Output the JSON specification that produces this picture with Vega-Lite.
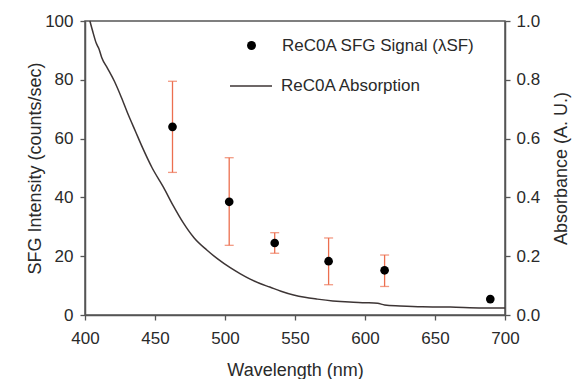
{
  "$schema": "https://vega.github.io/schema/vega-lite/v6.json",
  "width": 420,
  "height": 294,
  "autosize": {"type": "none"},
  "padding": {"left": 85, "top": 21, "right": 70, "bottom": 64},
  "background": "white",
  "config": {
    "font": "Liberation Sans",
    "view": {"stroke": "#555555", "strokeWidth": 1.5},
    "scale": {"continuousPadding": 0},
    "axis": {
      "grid": false,
      "labelFlush": false,
      "domainColor": "#555555",
      "domainWidth": 1.5,
      "tickColor": "#555555",
      "tickWidth": 1.3,
      "tickSize": 5,
      "labelFont": "Liberation Sans",
      "labelFontSize": 17,
      "labelColor": "#2a2a2a",
      "titleFont": "Liberation Sans",
      "titleFontSize": 18,
      "titleFontWeight": "normal",
      "titleColor": "#2a2a2a"
    },
    "legend": {
      "labelFont": "Liberation Sans",
      "labelFontSize": 17,
      "labelColor": "#2a2a2a",
      "labelLimit": 400,
      "padding": 0
    }
  },
  "datasets": {
    "sfg": [
      {"wl": 462.5, "sfg": 64.0, "lo": 48.5, "hi": 79.5},
      {"wl": 503.0, "sfg": 38.5, "lo": 23.7, "hi": 53.5},
      {"wl": 535.5, "sfg": 24.5, "lo": 21.0, "hi": 28.0},
      {"wl": 574.0, "sfg": 18.3, "lo": 10.3, "hi": 26.2},
      {"wl": 614.0, "sfg": 15.2, "lo": 9.7, "hi": 20.4},
      {"wl": 689.5, "sfg": 5.4, "lo": null, "hi": null}
    ],
    "abs": [
      {"wl": 403.5, "a": 1.0},
      {"wl": 405.5, "a": 0.965},
      {"wl": 408, "a": 0.925},
      {"wl": 410, "a": 0.905},
      {"wl": 412, "a": 0.875},
      {"wl": 416, "a": 0.84},
      {"wl": 421, "a": 0.795},
      {"wl": 426, "a": 0.74},
      {"wl": 431, "a": 0.68},
      {"wl": 436, "a": 0.625},
      {"wl": 441, "a": 0.57},
      {"wl": 448, "a": 0.5},
      {"wl": 456, "a": 0.435},
      {"wl": 463, "a": 0.372},
      {"wl": 470, "a": 0.315},
      {"wl": 478, "a": 0.262},
      {"wl": 487, "a": 0.221},
      {"wl": 495, "a": 0.19},
      {"wl": 504, "a": 0.16},
      {"wl": 511, "a": 0.14},
      {"wl": 518, "a": 0.122},
      {"wl": 525, "a": 0.107},
      {"wl": 532, "a": 0.095},
      {"wl": 540, "a": 0.081},
      {"wl": 549, "a": 0.068},
      {"wl": 557, "a": 0.06},
      {"wl": 566, "a": 0.054},
      {"wl": 577, "a": 0.048},
      {"wl": 589, "a": 0.044},
      {"wl": 600, "a": 0.042},
      {"wl": 609, "a": 0.04},
      {"wl": 614, "a": 0.034},
      {"wl": 625, "a": 0.031},
      {"wl": 641, "a": 0.028},
      {"wl": 661, "a": 0.027},
      {"wl": 684, "a": 0.024},
      {"wl": 700, "a": 0.024}
    ]
  },
  "encoding": {
    "x": {
      "field": "wl",
      "type": "quantitative",
      "scale": {"domain": [400, 700], "nice": false, "padding": 0},
      "axis": {"values": [400, 450, 500, 550, 600, 650, 700], "title": "Wavelength (nm)", "labelPadding": 10, "titlePadding": 15}
    }
  },
  "layer": [
    {
      "data": {"name": "sfg"},
      "layer": [
        {
          "mark": {"type": "rule", "color": "#ec6f4f", "strokeWidth": 1.3},
          "encoding": {
            "y": {
              "field": "lo",
              "type": "quantitative",
              "scale": {"domain": [0, 100], "nice": false, "padding": 0},
              "axis": {"values": [0, 20, 40, 60, 80, 100], "title": "SFG Intensity (counts/sec)", "labelPadding": 7, "titlePadding": 0}
            },
            "y2": {"field": "hi"}
          }
        },
        {
          "mark": {"type": "tick", "color": "#ec6f4f", "orient": "horizontal", "size": 9, "thickness": 1.3},
          "encoding": {"y": {"field": "lo", "type": "quantitative"}}
        },
        {
          "mark": {"type": "tick", "color": "#ec6f4f", "orient": "horizontal", "size": 9, "thickness": 1.3},
          "encoding": {"y": {"field": "hi", "type": "quantitative"}}
        },
        {
          "mark": {"type": "point", "filled": true, "color": "black", "size": 75, "opacity": 1},
          "encoding": {
            "y": {"field": "sfg", "type": "quantitative"},
            "shape": {
              "datum": "ReC0A SFG Signal (λSF)",
              "scale": {"range": ["circle"]},
              "legend": {
                "title": null,
                "orient": "none",
                "legendX": 158,
                "legendY": 16,
                "symbolSize": 80,
                "symbolFillColor": "black",
                "symbolStrokeColor": "black",
                "symbolOpacity": 1,
                "labelOffset": 22
              }
            }
          }
        }
      ]
    },
    {
      "data": {"name": "abs"},
      "mark": {"type": "line", "strokeWidth": 1.5, "interpolate": "monotone"},
      "encoding": {
        "y": {
          "field": "a",
          "type": "quantitative",
          "scale": {"domain": [0, 1], "nice": false},
          "axis": {"orient": "right", "values": [0, 0.2, 0.4, 0.6, 0.8, 1.0], "format": ".1f", "title": "Absorbance (A. U.)", "titleAngle": 270, "titleBaseline": "top", "labelPadding": 6, "titlePadding": 13}
        },
        "color": {
          "datum": "ReC0A Absorption",
          "scale": {"range": ["#3d3535"]},
          "legend": {
            "title": null,
            "orient": "none",
            "legendX": 144,
            "legendY": 43,
            "symbolType": "stroke",
            "symbolSize": 1764,
            "symbolStrokeWidth": 1.5,
            "labelOffset": 8
          }
        }
      }
    }
  ],
  "resolve": {"scale": {"y": "independent"}}
}
